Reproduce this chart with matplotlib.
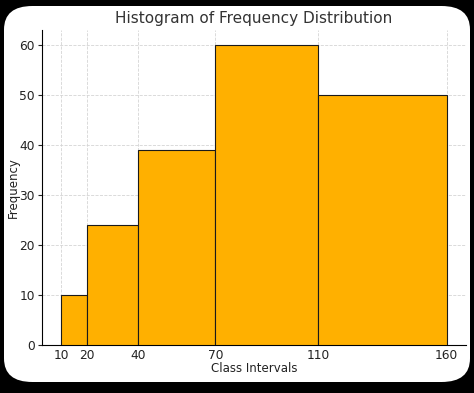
import matplotlib
matplotlib.use("Agg")
import matplotlib.pyplot as plt
import matplotlib.patches as patches

# class boundaries and frequencies
edges = [10, 20, 40, 70, 110, 160]
freqs = [10, 24, 39, 60, 50]

BAR_COLOR = "#FFB000"


def main():
    fig = plt.figure(figsize=(4.74, 3.93), dpi=100)
    fig.patch.set_facecolor("black")

    # white rounded card behind the plot
    card = patches.FancyBboxPatch((4 / 474, 11 / 393), 466 / 474, 376 / 393,
                                  boxstyle="round,pad=0,rounding_size=0.06",
                                  transform=fig.transFigure, facecolor="white",
                                  edgecolor="none", zorder=-10)
    fig.patches.append(card)

    ax = fig.add_axes([42 / 474, 48 / 393, 424 / 474, 315 / 393])
    ax.set_facecolor("none")

    lefts = edges[:-1]
    widths = [edges[i + 1] - edges[i] for i in range(len(freqs))]
    ax.bar(lefts, freqs, width=widths, align="edge", color=BAR_COLOR,
           edgecolor="#1a1a1a", linewidth=0.8, zorder=3)

    ax.set_xlim(2.5, 167.5)
    ax.set_ylim(0, 63)
    ax.set_xticks(edges)
    ax.set_yticks(range(0, 61, 10))
    ax.tick_params(axis="both", labelsize=8.8, colors="#222222")
    ax.tick_params(axis="y", length=3, pad=2)
    ax.tick_params(axis="x", length=0, pad=3)
    ax.grid(True, linestyle="--", color="#d5d5d5", linewidth=0.6, zorder=0)

    ax.spines["top"].set_visible(False)
    ax.spines["right"].set_visible(False)

    ax.set_title("Histogram of Frequency Distribution", fontsize=11,
                 color="#333333", pad=5)
    ax.set_xlabel("Class Intervals", fontsize=8.5, color="#222222", labelpad=0)
    ax.set_ylabel("Frequency", fontsize=8.5, color="#222222", labelpad=0)

    fig.savefig("out.png", dpi=100, facecolor=fig.get_facecolor())
    plt.close(fig)


if __name__ == "__main__":
    main()
